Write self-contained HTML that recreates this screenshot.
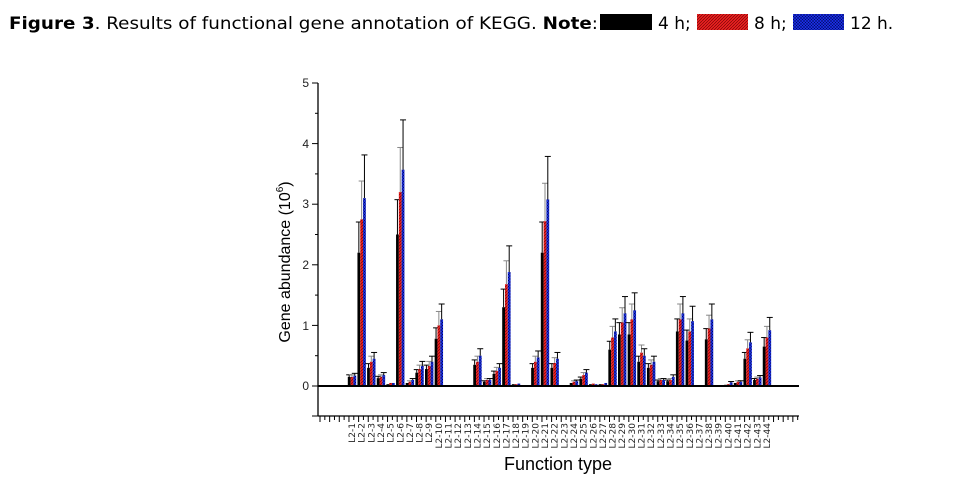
<!DOCTYPE html>
<html><head><meta charset="utf-8"><style>
body{margin:0;background:#fff;width:969px;height:481px;overflow:hidden}
svg{display:block}
text{font-family:"DejaVu Sans","Liberation Sans",sans-serif}
text.l,.l text{font-family:"Liberation Sans",Arial,sans-serif}
</style></head><body>
<svg id="s" width="969" height="481" viewBox="0 0 969 481" xmlns="http://www.w3.org/2000/svg">
<defs>
<pattern id="pr" width="3" height="3" patternUnits="userSpaceOnUse"><rect width="3" height="3" fill="#e82020"/><path d="M0 3L3 0" stroke="#600" stroke-width="0.6"/></pattern>
<pattern id="pb" width="3" height="3" patternUnits="userSpaceOnUse"><rect width="3" height="3" fill="#1a2de0"/><path d="M0 3L3 0M0 0L3 3" stroke="#000a60" stroke-width="0.5"/></pattern>
</defs>
<text x="9" y="29" font-size="17" textLength="589" lengthAdjust="spacingAndGlyphs"><tspan font-weight="bold">Figure 3</tspan>. Results of functional gene annotation of KEGG. <tspan font-weight="bold">Note</tspan>:</text>
<rect x="600" y="14" width="52" height="16" fill="#000"/>
<text x="658" y="29" font-size="17">4 h;</text>
<rect x="697" y="14" width="51" height="16" fill="url(#pr)"/>
<text x="754" y="29" font-size="17">8 h;</text>
<rect x="793" y="14" width="51" height="16" fill="url(#pb)"/>
<text x="850" y="29" font-size="17">12 h.</text>
<g font-size="12" text-anchor="end" fill="#222" class="l">
<text x="309" y="87">5</text><text x="309" y="148">4</text><text x="309" y="208">3</text><text x="309" y="269">2</text><text x="309" y="330">1</text><text x="309" y="390">0</text>
</g>
<text class="l" transform="translate(290,262) rotate(-90)" font-size="16" text-anchor="middle">Gene abundance (10<tspan font-size="10" dy="-7">6</tspan><tspan dy="7">)</tspan></text>
<text class="l" x="558" y="470" font-size="18" text-anchor="middle">Function type</text>
<g id="g"></g>
<g font-size="9" fill="#222" text-anchor="end">
<text transform="translate(355,423) rotate(-90)">L2-1</text><text transform="translate(364.7,423) rotate(-90)">L2-2</text><text transform="translate(374.3,423) rotate(-90)">L2-3</text><text transform="translate(384,423) rotate(-90)">L2-4</text><text transform="translate(393.6,423) rotate(-90)">L2-5</text><text transform="translate(403.3,423) rotate(-90)">L2-6</text><text transform="translate(412.9,423) rotate(-90)">L2-7</text><text transform="translate(422.6,423) rotate(-90)">L2-8</text><text transform="translate(432.2,423) rotate(-90)">L2-9</text><text transform="translate(441.9,423) rotate(-90)">L2-10</text><text transform="translate(451.5,423) rotate(-90)">L2-11</text><text transform="translate(461.2,423) rotate(-90)">L2-12</text><text transform="translate(470.8,423) rotate(-90)">L2-13</text><text transform="translate(480.5,423) rotate(-90)">L2-14</text><text transform="translate(490.1,423) rotate(-90)">L2-15</text><text transform="translate(499.8,423) rotate(-90)">L2-16</text><text transform="translate(509.4,423) rotate(-90)">L2-17</text><text transform="translate(519.1,423) rotate(-90)">L2-18</text><text transform="translate(528.7,423) rotate(-90)">L2-19</text><text transform="translate(538.4,423) rotate(-90)">L2-20</text><text transform="translate(548,423) rotate(-90)">L2-21</text><text transform="translate(557.7,423) rotate(-90)">L2-22</text><text transform="translate(567.3,423) rotate(-90)">L2-23</text><text transform="translate(577,423) rotate(-90)">L2-24</text><text transform="translate(586.6,423) rotate(-90)">L2-25</text><text transform="translate(596.3,423) rotate(-90)">L2-26</text><text transform="translate(605.9,423) rotate(-90)">L2-27</text><text transform="translate(615.6,423) rotate(-90)">L2-28</text><text transform="translate(625.2,423) rotate(-90)">L2-29</text><text transform="translate(634.9,423) rotate(-90)">L2-30</text><text transform="translate(644.5,423) rotate(-90)">L2-31</text><text transform="translate(654.2,423) rotate(-90)">L2-32</text><text transform="translate(663.8,423) rotate(-90)">L2-33</text><text transform="translate(673.5,423) rotate(-90)">L2-34</text><text transform="translate(683.1,423) rotate(-90)">L2-35</text><text transform="translate(692.8,423) rotate(-90)">L2-36</text><text transform="translate(702.4,423) rotate(-90)">L2-37</text><text transform="translate(712.1,423) rotate(-90)">L2-38</text><text transform="translate(721.7,423) rotate(-90)">L2-39</text><text transform="translate(731.4,423) rotate(-90)">L2-40</text><text transform="translate(741,423) rotate(-90)">L2-41</text><text transform="translate(750.7,423) rotate(-90)">L2-42</text><text transform="translate(760.3,423) rotate(-90)">L2-43</text><text transform="translate(770,423) rotate(-90)">L2-44</text>
</g>
</svg>
<script>
var d=[[.15,.15,.17],[2.2,2.75,3.1],[.3,.4,.45],[.13,.15,.18],[.03,.05,.05],[2.5,3.2,3.57],[.05,.07,.1],[.22,.28,.33],[.28,.33,.4],[.78,1,1.1],[.01,.01,.01],[0,0,0],[.01,.01,.01],[.35,.4,.5],[.07,.1,.1],[.2,.25,.3],[1.3,1.68,1.88],[.03,.03,.04],[.01,.01,.01],[.3,.4,.47],[2.2,2.72,3.08],[.3,.38,.45],[.01,.01,.01],[.05,.07,.08],[.12,.18,.22],[.03,.04,.03],[.03,.03,.05],[.6,.8,.9],[.85,1.05,1.2],[.85,1.1,1.25],[.4,.55,.5],[.3,.35,.4],[.08,.1,.1],[.08,.1,.15],[.9,1.1,1.2],[.75,.9,1.07],[0,0,0],[.77,.95,1.1],[.01,.01,.01],[.02,.03,.06],[.05,.07,.07],[.45,.62,.72],[.1,.12,.14],[.65,.8,.92]];
var s='',Y0=386,U=60.6,fills=['#000','url(#pr)','url(#pb)'],ec=['#000','#888','#000'];
function L(a,b,c,e,st,w){s+='<line x1="'+a+'" y1="'+b+'" x2="'+c+'" y2="'+e+'" stroke="'+st+'" stroke-width="'+w+'"/>';}
d.forEach(function(g,i){var cx=352+i*9.65;g.forEach(function(v,j){var x=cx-4.2+j*2.8,h=v*U;if(h<0.6&&v>0)h=0.6;
s+='<rect x="'+x+'" y="'+(Y0-h)+'" width="2.8" height="'+h+'" fill="'+fills[j]+'"/>';
if(v>0.05){var e=v*0.23*U,xm=x+1.4;L(xm,Y0-h,xm,Y0-h-e,ec[j],1);L(xm-3,Y0-h-e,xm+3,Y0-h-e,ec[j],1);}});});
L(318,83,318,416,'#000',1.3);L(318,416,799,416,'#000',1.3);L(318,386,799,386,'#000',2);
for(var k=0;k<=10;k++){var y=386-k*U/2;L(k%2?315:312,y,318,y,'#000',1);}
L(312,416,318,416,'#000',1);
for(var t=0;t<=100;t++){var x=320+t*4.825;if(x>799)break;L(x,416,x,t%2?420:422,'#000',1);}
document.getElementById('g').innerHTML=s;
</script>
</body></html>
